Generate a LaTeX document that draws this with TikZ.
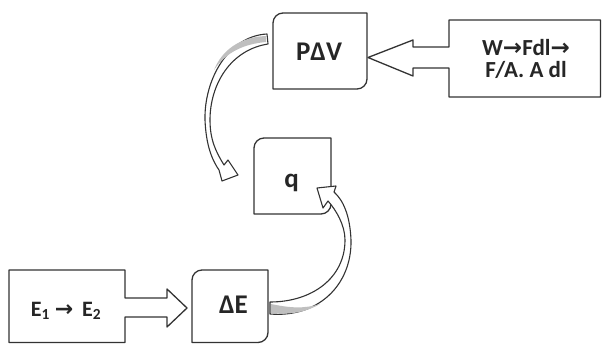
\documentclass[tikz,border=0pt]{standalone}
\usepackage{fontspec}
\setmainfont{Carlito}
\newfontfamily\dvfont{DejaVu Sans}
\newcommand\rndbox[4]{%
  \draw[edge] (#1,#2+10) .. controls (#1,#2+4.5) and (#1+4.5,#2) .. (#1+10,#2)
    -- (#3,#2) -- (#3,#4-10) .. controls (#3,#4-4.5) and (#3-4.5,#4) .. (#3-10,#4)
    -- (#1,#4) -- cycle;}
\begin{document}
\begin{tikzpicture}[x=1pt,y=-1pt,line join=round,
  edge/.style={draw=black!80,line width=1.3pt,fill=white},
  lbl/.style={font=\bfseries\fontsize{27}{29}\selectfont,inner sep=0pt,text=black!85},
  small/.style={font=\bfseries\fontsize{23}{21.5}\selectfont,inner sep=0pt,text=black!85,align=center},
  shade/.style={fill=black!25,draw=none}]
\useasboundingbox (0,0) rectangle (602,344);
% boxes
\rndbox{273}{13}{367}{89}
\rndbox{254}{138}{331}{214}
\rndbox{192}{270}{268}{342.5}
% callouts
\draw[edge] (449,20) -- (600.5,20) -- (600.5,97) -- (449,97) -- (449,68) -- (413,68)
  -- (413,76) -- (368,57.5) -- (413,40) -- (413,47) -- (449,47) -- cycle;
\draw[edge] (9,270) -- (125,270) -- (125,298) -- (167,298) -- (167,289) -- (187,308)
  -- (167,327) -- (167,317) -- (125,317) -- (125,342.5) -- (9,342.5) -- cycle;
% labels
\node[lbl] (pdv) at (319,52) {PΔV};
\node[lbl] (q) at (291.5,182.5) {q};
\node[lbl] (de) at (233.5,305) {ΔE};
\node[small] (w) at (526,59) {W{\dvfont →}Fdl{\dvfont →}\\F/A. A dl};
\node[small,font=\bfseries\fontsize{22}{23}\selectfont] (e) at (66,311) {E\textsubscript{1} {\dvfont →}\, E\textsubscript{2}};
% curved arrow 1 (PdV -> q)
\draw[edge,line width=1.1pt] (267,34) .. controls (228,36) and (204,80) .. (205,120)
  .. controls (206,145) and (212,160) .. (219,170) -- (222,181) -- (238,175) -- (228,160)
  -- (224,165) .. controls (216,152) and (210,140) .. (210,120)
  .. controls (210,85) and (230,50) .. (268,44) -- cycle;
\fill[shade] (266,36) .. controls (240,37) and (222,50) .. (214,70)
  .. controls (226,52) and (244,44) .. (266,42) -- cycle;
% curved arrow 2 (dE -> q)
\draw[edge,line width=1.1pt] (270,314) .. controls (318,318) and (352,285) .. (351,240)
  .. controls (350,215) and (343,200) .. (334,192) -- (336,186) -- (317,188) -- (323,208)
  -- (328,201) .. controls (336,210) and (345,225) .. (345,240)
  .. controls (345,278) and (312,302) .. (270,302) -- cycle;
\fill[shade] (271,304) -- (271,313) .. controls (292,315) and (306,312) .. (320,304)
  .. controls (304,309) and (290,308) .. cycle;
\end{tikzpicture}
\end{document}
